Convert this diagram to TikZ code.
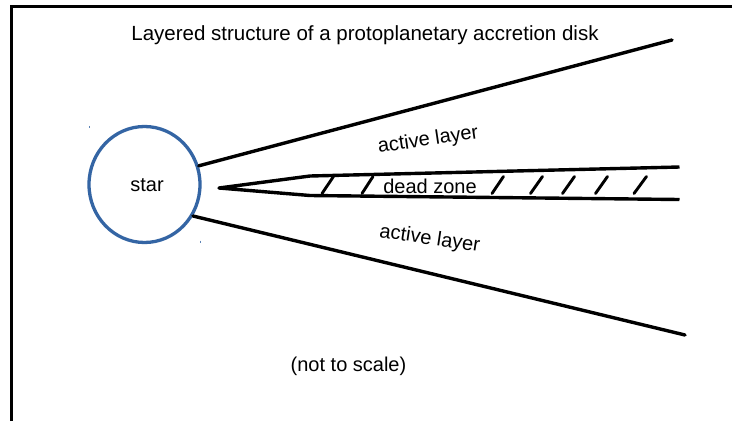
\documentclass[tikz,border=0pt]{standalone}
\usepackage{fontspec}
\setmainfont{Liberation Sans}
\usetikzlibrary{shapes.geometric}
\definecolor{starblue}{HTML}{3465A4}
\tikzset{
  frameline/.style={line width=2.8pt, black},
  diskline/.style={line width=3.4pt, black, line cap=round, line join=round},
  hatchline/.style={line width=2.9pt, black, line cap=round},
  label/.style={inner sep=0pt, font=\fontsize{20}{22}\selectfont},
  handle/.style={line width=0.9pt, starblue!80}
}
\begin{document}
\begin{tikzpicture}[x=1pt, y=-1pt]
  \useasboundingbox (0,0) rectangle (732,421);
  \fill[white] (0,0) rectangle (732,421);

  % open frame: top and left edges
  \draw[frameline] (11.5,421) -- (11.5,6.5) -- (732,6.5);

  % title and footnote
  \node[label, anchor=base, font=\fontsize{20.5}{22}\selectfont] (title) at (365,40)
    {Layered structure of a protoplanetary accretion disk};
  \node[label, anchor=base] (scale) at (348.5,371.5) {(not to scale)};

  % the star
  \node[ellipse, draw=starblue, line width=3.3pt, minimum width=111pt,
        minimum height=116pt, inner sep=0pt] (star) at (144.5,184.5) {};
  \node[label, anchor=base] (startext) at (147,191) {star};
  \draw[handle] (89.3,125.8) -- (89.3,128.4);
  \draw[handle] (200.2,240.6) -- (200.2,243.2);

  % outer surfaces of the active layers
  \coordinate (uend) at (672,40);
  \coordinate (lend) at (685,335);
  \draw[diskline] (star.19) -- (uend);
  \draw[diskline] (star.-33) -- (lend);

  % dead zone wedge
  \coordinate (apex) at (219,188);
  \coordinate (ukink) at (310,176);
  \coordinate (lkink) at (310,195.5);
  \coordinate (dzu) at (679.5,167);
  \coordinate (dzl) at (679.5,199.5);
  \draw[diskline, line cap=butt] (dzu) -- (ukink) -- (apex) -- (lkink) -- (dzl);

  % hatching inside the dead zone
  \foreach \bx/\tx in {322/333.5, 362/373, 492/503.5, 530.5/542.5,
                       562.5/574.5, 595.5/607.5, 634/646.5}
    \draw[hatchline] (\bx,193.5) -- (\tx,176.5);

  \node[label, anchor=base] (dead) at (430,193) {dead zone};

  % layer labels
  \node[label, anchor=base, rotate=8.5] (upper) at (429,145.5) {active layer};
  \node[label, anchor=base, rotate=-8.5] (lower) at (429,244.5) {active layer};
\end{tikzpicture}
\end{document}
